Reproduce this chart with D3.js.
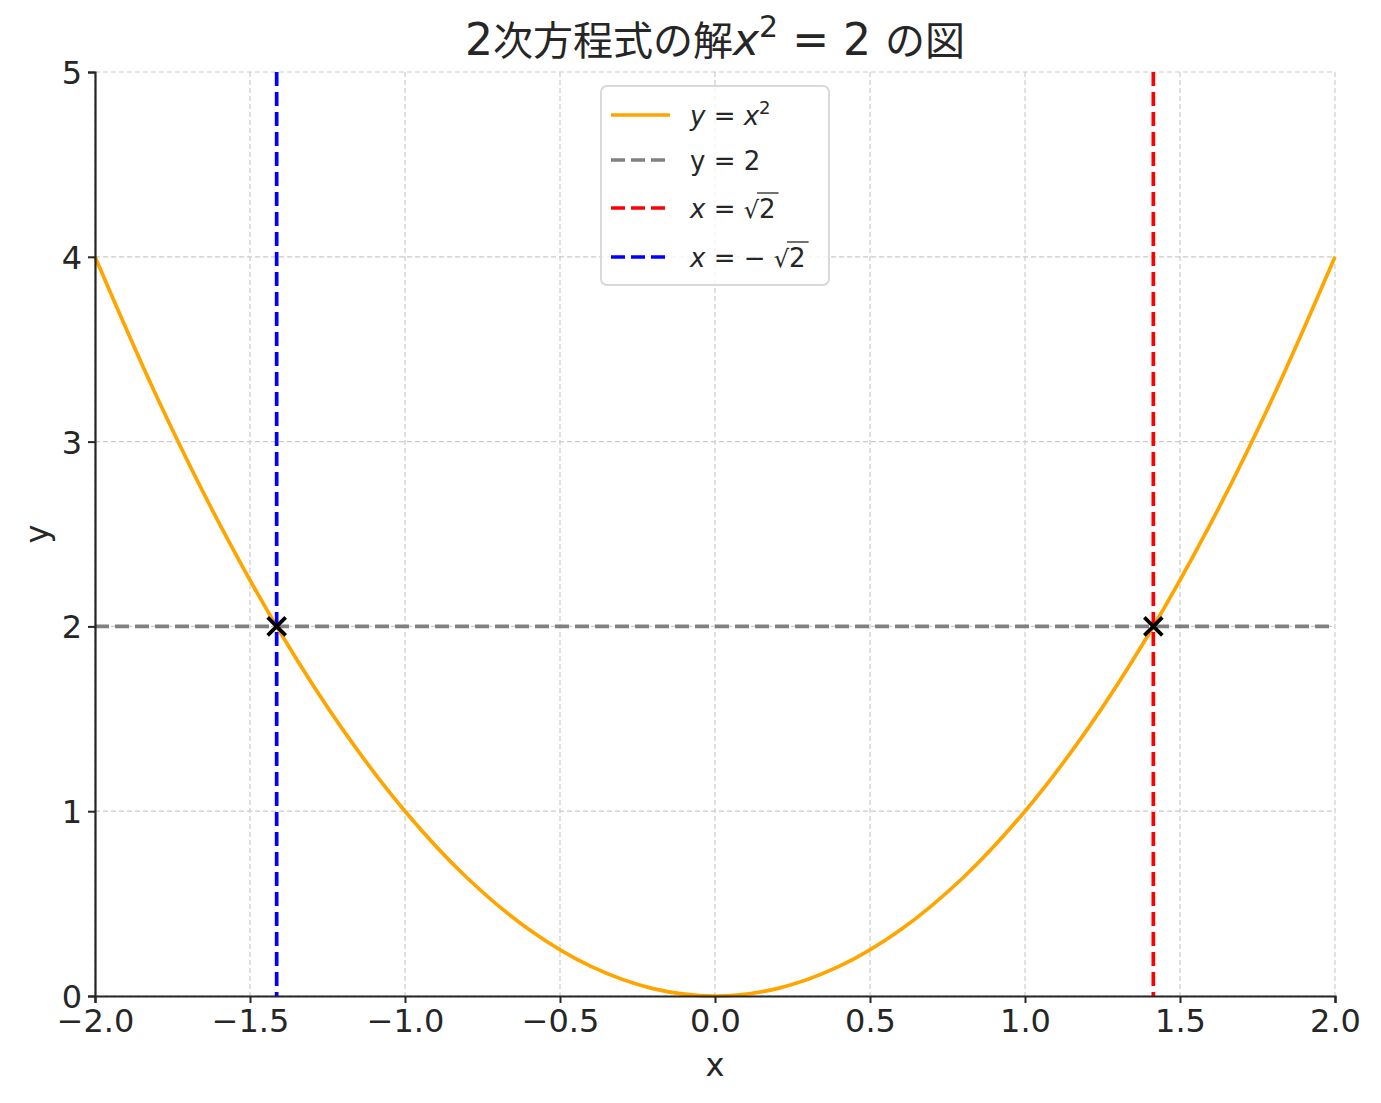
<!DOCTYPE html>
<html>
<head>
<meta charset="utf-8">
<script src="https://cdn.jsdelivr.net/npm/d3@7"></script>
<style>
  body { margin: 0; background: #fff; }
  text { font-family: "DejaVu Sans", sans-serif; fill: #262626; }
</style>
</head>
<body>
<svg width="1381" height="1103"></svg>
<script>
// curve samples of y = x^2
var curveX = [-2, -1.8, -1.6, -1.4, -1.2, -1, -0.8, -0.6, -0.4, -0.2, 0, 0.2, 0.4, 0.6, 0.8, 1, 1.2, 1.4, 1.6, 1.8, 2];
var curveY = [4, 3.24, 2.56, 1.96, 1.44, 1, 0.64, 0.36, 0.16, 0.04, 0, 0.04, 0.16, 0.36, 0.64, 1, 1.44, 1.96, 2.56, 3.24, 4];
var hLineY = 2;
var rootX = [1.414, -1.414];
var rootColors = ["#ff0000", "#0000ff"];
var xTicks = [-2, -1.5, -1, -0.5, 0, 0.5, 1, 1.5, 2];
var yTicks = [0, 1, 2, 3, 4, 5];

var margin = { top: 72, right: 46, bottom: 107, left: 95 },
    width = 1381 - margin.left - margin.right,
    height = 1103 - margin.top - margin.bottom;

var x = d3.scaleLinear().domain([-2, 2]).range([0, width]),
    y = d3.scaleLinear().domain([0, 5]).range([height, 0]);

var svg = d3.select("svg");
var g = svg.append("g")
    .attr("transform", "translate(" + margin.left + "," + margin.top + ")");

// grid
g.append("g").selectAll("line")
    .data(xTicks)
    .enter().append("line")
    .attr("x1", function(d) { return x(d); })
    .attr("x2", function(d) { return x(d); })
    .attr("y1", 0).attr("y2", height)
    .attr("stroke", "#cccccc").attr("stroke-width", 1.2)
    .attr("stroke-dasharray", "5,3");
g.append("g").selectAll("line")
    .data(yTicks)
    .enter().append("line")
    .attr("y1", function(d) { return y(d); })
    .attr("y2", function(d) { return y(d); })
    .attr("x1", 0).attr("x2", width)
    .attr("stroke", "#cccccc").attr("stroke-width", 1.2)
    .attr("stroke-dasharray", "5,3");

// parabola
var line = d3.line()
    .x(function(d, i) { return x(curveX[i]); })
    .y(function(d) { return y(d); })
    .curve(d3.curveCatmullRom);
g.append("path")
    .datum(curveY)
    .attr("d", line)
    .attr("fill", "none")
    .attr("stroke", "#ffa500")
    .attr("stroke-width", 3.7);

// y = 2
g.append("line")
    .attr("x1", 0).attr("x2", width)
    .attr("y1", y(hLineY)).attr("y2", y(hLineY))
    .attr("stroke", "#808080").attr("stroke-width", 3.7)
    .attr("stroke-dasharray", "14,6");

// x = +-sqrt2
g.selectAll(".root")
    .data(rootX)
    .enter().append("line")
    .attr("class", "root")
    .attr("x1", function(d) { return x(d); })
    .attr("x2", function(d) { return x(d); })
    .attr("y1", 0).attr("y2", height)
    .attr("stroke", function(d, i) { return rootColors[i]; })
    .attr("stroke-width", 3.7)
    .attr("stroke-dasharray", "14,6");

// intersection markers
var m = 9;
g.selectAll(".mark")
    .data(rootX)
    .enter().append("path")
    .attr("class", "mark")
    .attr("transform", function(d) { return "translate(" + x(d) + "," + y(hLineY) + ")"; })
    .attr("d", "M" + -m + "," + -m + "L" + m + "," + m + "M" + -m + "," + m + "L" + m + "," + -m)
    .attr("stroke", "#000").attr("stroke-width", 3.7);

// axes
var xAxis = g.append("g")
    .attr("transform", "translate(0," + height + ")")
    .call(d3.axisBottom(x).tickValues(xTicks).tickFormat(d3.format(".1f")).tickSize(7).tickPadding(5));
var yAxis = g.append("g")
    .call(d3.axisLeft(y).tickValues(yTicks).tickFormat(d3.format("d")).tickSize(7).tickPadding(6));
[xAxis, yAxis].forEach(function(a) {
    a.select(".domain").attr("stroke", "#262626").attr("stroke-width", 2.2);
    a.selectAll(".tick line").attr("stroke", "#262626").attr("stroke-width", 2);
    a.selectAll(".tick text").style("font-size", "32px").attr("fill", "#262626");
});
xAxis.selectAll(".tick text").attr("dy", "0.74em");
yAxis.selectAll(".tick text").attr("dy", "0.36em");

// axis labels
svg.append("text")
    .attr("x", margin.left + width / 2).attr("y", 1076)
    .attr("text-anchor", "middle").style("font-size", "32px")
    .text("x");
svg.append("text")
    .attr("transform", "translate(48," + (margin.top + height / 2) + ")rotate(-90)")
    .attr("text-anchor", "middle").style("font-size", "32px")
    .text("y");

// title
var title = svg.append("text")
    .attr("x", margin.left + width / 2).attr("y", 55)
    .attr("text-anchor", "middle").style("font-size", "44px")
    .attr("fill", "#333");
title.append("tspan").text("2");
title.append("tspan").style("font-family", "'Noto Sans CJK JP'").style("font-size", "40px").text("次方程式の解");
title.append("tspan").style("font-style", "italic").text("x");
title.append("tspan").attr("dy", -18).style("font-size", "30px").text("2");
title.append("tspan").attr("dy", 18).text(" = 2 ");
title.append("tspan").style("font-family", "'Noto Sans CJK JP'").style("font-size", "40px").text("の図");

// legend
var legend = svg.append("g").attr("transform", "translate(601,86)");
legend.append("rect")
    .attr("width", 228).attr("height", 199)
    .attr("rx", 6)
    .attr("fill", "#fff").attr("fill-opacity", 0.8)
    .attr("stroke", "#d9d9d9").attr("stroke-width", 2);

var items = [
    { color: "#ffa500", dash: null, y: 29 },
    { color: "#808080", dash: "14,6", y: 74 },
    { color: "#ff0000", dash: "14,6", y: 122 },
    { color: "#0000ff", dash: "14,6", y: 171 }
];
legend.selectAll(".item")
    .data(items)
    .enter().append("line")
    .attr("x1", 10).attr("x2", 69)
    .attr("y1", function(d) { return d.y; })
    .attr("y2", function(d) { return d.y; })
    .attr("stroke", function(d) { return d.color; })
    .attr("stroke-width", 3.7)
    .attr("stroke-dasharray", function(d) { return d.dash; });

function label(yy) {
    return legend.append("text").attr("x", 89).attr("y", yy + 10).style("font-size", "26px");
}
var t0 = label(items[0].y);
t0.append("tspan").style("font-style", "italic").text("y");
t0.append("tspan").text(" = ");
t0.append("tspan").style("font-style", "italic").text("x");
t0.append("tspan").attr("dy", -11).style("font-size", "18px").text("2");

label(items[1].y).text("y = 2");

function sqrtLabel(yy, prefix) {
    var t = label(yy);
    t.append("tspan").style("font-style", "italic").text("x");
    t.append("tspan").text(prefix);
    t.append("tspan").style("font-size", "24px").text("√");
    var two = t.append("tspan").text("2");
    var bb = t.node().getBBox();
    var w = two.node().getComputedTextLength();
    legend.append("line")
        .attr("x1", bb.x + bb.width - w - 2).attr("x2", bb.x + bb.width + 3)
        .attr("y1", yy - 15).attr("y2", yy - 15)
        .attr("stroke", "#262626").attr("stroke-width", 1.3);
}
sqrtLabel(items[2].y, " = ");
sqrtLabel(items[3].y, " = \u2212 ");
</script>
</body>
</html>
